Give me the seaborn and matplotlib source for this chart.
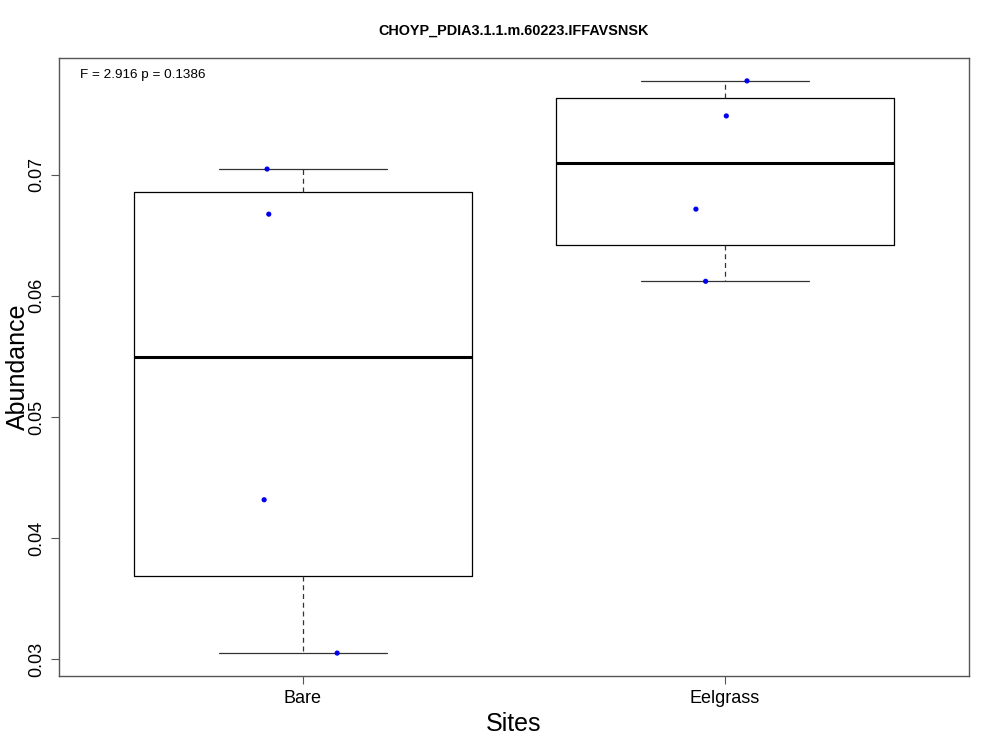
import numpy as np
import pandas as pd
import seaborn as sns
import matplotlib.pyplot as plt

# Values
sites = ['Bare', 'Eelgrass']
bare = [0.070472, 0.066748, 0.043163, 0.030501]
eelgrass = [0.077755, 0.074860, 0.067163, 0.061204]
# horizontal jitter of each point (category units), as drawn in the reference
bare_jitter = [-0.085, -0.081, -0.092, 0.081]
eelgrass_jitter = [0.052, 0.003, -0.069, -0.046]
y_ticks = [0.03, 0.04, 0.05, 0.06, 0.07]
title = 'CHOYP_PDIA3.1.1.m.60223.IFFAVSNSK'
stat_text = 'F = 2.916 p = 0.1386'

df = pd.DataFrame({
    'Sites': ['Bare'] * len(bare) + ['Eelgrass'] * len(eelgrass),
    'Abundance': bare + eelgrass,
    'jitter': bare_jitter + eelgrass_jitter,
})
df['pos'] = df['Sites'].map({s: i for i, s in enumerate(sites)}) + df['jitter']


def fivenum(x):
    # Tukey's five number summary, the way R's boxplot computes it
    x = np.sort(np.asarray(x))
    n = len(x)
    n4 = np.floor((n + 3) / 2) / 2
    d = np.array([1, n4, (n + 1) / 2, n + 1 - n4, n]) - 1
    return 0.5 * (x[np.floor(d).astype(int)] + x[np.ceil(d).astype(int)])


sns.set_style('ticks')
plt.rcParams['font.family'] = ['Liberation Sans', 'DejaVu Sans']
plt.rcParams['text.color'] = 'black'
plt.rcParams['axes.labelcolor'] = 'black'
plt.rcParams['xtick.labelcolor'] = 'black'
plt.rcParams['ytick.labelcolor'] = 'black'

fig = plt.figure(figsize=(10, 7.5), dpi=100)
ax = fig.add_axes([0.059, 0.0987, 0.91, 0.824])

stats = []
for s in sites:
    lo, q1, med, q3, hi = fivenum(df.loc[df['Sites'] == s, 'Abundance'])
    stats.append(dict(whislo=lo, q1=q1, med=med, q3=q3, whishi=hi, fliers=[], label=s))

ax.bxp(stats, positions=range(len(sites)), widths=0.8, showfliers=False,
       boxprops=dict(color='black', linewidth=0.9),
       medianprops=dict(color='black', linewidth=2.2),
       whiskerprops=dict(color='#333333', linewidth=0.9, linestyle=(0, (4, 3))),
       capprops=dict(color='#333333', linewidth=0.9),
       capwidths=0.4)

sns.scatterplot(data=df, x='pos', y='Abundance', color='#0000ee', s=14,
                edgecolor='none', ax=ax, zorder=5, legend=False)

vals = df['Abundance']
pad = (vals.max() - vals.min()) * 0.04
ax.set_ylim(vals.min() - pad, vals.max() + pad)
ax.set_xlim(-0.578, 1.578)

ax.set_yticks(y_ticks)
ax.set_yticklabels([f'{t:.2f}' for t in y_ticks], rotation=90, va='center', fontsize=13)
ax.set_xticks(range(len(sites)))
ax.set_xticklabels(sites, fontsize=13)
ax.tick_params(axis='both', direction='out', length=6, width=0.8, color='#555555', pad=4)

for sp in ax.spines.values():
    sp.set_color('#555555')
    sp.set_linewidth(1.0)

ax.set_xlabel('Sites', fontsize=18, labelpad=4)
ax.set_ylabel('Abundance', fontsize=18, labelpad=-1)
ax.set_title(title, fontsize=10.4, fontweight='bold', pad=17)
ax.text(0.023, 0.972, stat_text, transform=ax.transAxes, fontsize=9.7, va='center', ha='left')

fig.savefig('out.png', dpi=100)
